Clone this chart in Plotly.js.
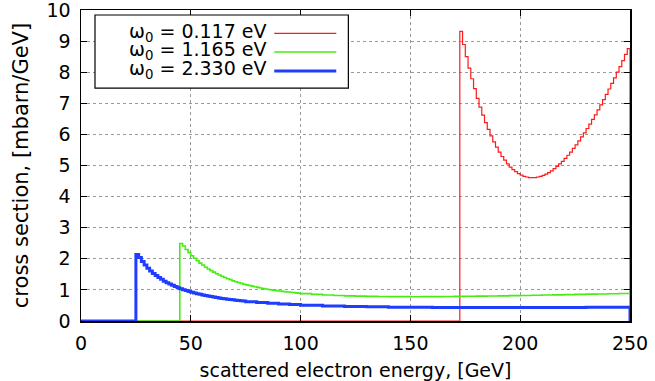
<!DOCTYPE html>
<html>
<head>
<meta charset="utf-8">
<script src="https://cdn.plot.ly/plotly-3.0.1.min.js"></script>
<style>
  html, body { margin: 0; padding: 0; background: #fff; }
  #chart { width: 655px; height: 381px; }
</style>
</head>
<body>
<div id="chart"></div>
<script>
// histogram bins, GeV
const FINE_BIN = 1.25;

// omega0 = 0.117 eV (red), bins of 1.25 GeV starting at 172.5
const redStart = 172.5;
const redValues = [9.31, 8.89, 8.50, 8.13, 7.79, 7.47, 7.16, 6.88, 6.62, 6.38,
  6.16, 5.95, 5.76, 5.59, 5.43, 5.29, 5.17, 5.05, 4.95, 4.87,
  4.80, 4.74, 4.69, 4.65, 4.63, 4.61, 4.61, 4.61, 4.63, 4.65,
  4.68, 4.72, 4.77, 4.83, 4.90, 4.97, 5.05, 5.13, 5.23, 5.33,
  5.43, 5.55, 5.66, 5.79, 5.92, 6.05, 6.19, 6.33, 6.48, 6.63,
  6.79, 6.95, 7.12, 7.29, 7.46, 7.64, 7.82, 8.00, 8.18, 8.37,
  8.57, 8.76];

// omega0 = 1.165 eV (green): 1.25 GeV bins from 45, then 5 GeV bins from 100
const greenStart = 45;
const greenFine = [2.49, 2.41, 2.30, 2.20, 2.10, 2.02, 1.94, 1.86, 1.80, 1.73,
  1.67, 1.62, 1.57, 1.52, 1.48, 1.44, 1.40, 1.36, 1.33, 1.29,
  1.26, 1.24, 1.21, 1.18, 1.16, 1.14, 1.12, 1.10, 1.08, 1.06,
  1.046, 1.03, 1.015, 1.00, 0.988, 0.976, 0.964, 0.953, 0.942, 0.932,
  0.923, 0.914, 0.905, 0.897];
const greenCoarse = [0.879, 0.855, 0.835, 0.820, 0.808, 0.799, 0.792, 0.787, 0.784, 0.783,
  0.782, 0.783, 0.785, 0.787, 0.791, 0.795, 0.799, 0.804, 0.809, 0.815,
  0.821, 0.828, 0.834, 0.841, 0.848, 0.855, 0.863, 0.870, 0.878, 0.886];

// omega0 = 2.330 eV (blue): 1.25 GeV bins from 25, 5 GeV from 75, 10 GeV from 100
const blueStart = 25;
const blueFine = [2.14, 2.04, 1.91, 1.80, 1.70, 1.61, 1.53, 1.46, 1.40, 1.34,
  1.28, 1.23, 1.19, 1.15, 1.107, 1.071, 1.037, 1.006, 0.977, 0.950,
  0.924, 0.901, 0.878, 0.857, 0.837, 0.819, 0.801, 0.785, 0.769, 0.754,
  0.740, 0.727, 0.714, 0.702, 0.691, 0.680, 0.669, 0.659, 0.650, 0.641];
const blueMid = [0.620, 0.591, 0.567, 0.546, 0.529];
const blueCoarse = [0.507, 0.484, 0.468, 0.455, 0.446, 0.440, 0.436, 0.433, 0.432, 0.432,
  0.432, 0.434, 0.437, 0.440, 0.443];

const E_MAX = 250;
const xTicks = [0, 50, 100, 150, 200, 250];
const yTicks = [0, 1, 2, 3, 4, 5, 6, 7, 8, 9, 10];
const legendLabels = ['ω<sub>0</sub> = 0.117 eV', 'ω<sub>0</sub> = 1.165 eV', 'ω<sub>0</sub> = 2.330 eV'];
const colors = ['#ff1a1a', '#44ee11', '#1f3dff'];
const widths = [1.2, 1.6, 3];

// turn [start, width, values] segments into a step outline that starts and ends at zero
function steps(segments) {
  const x = [0], y = [0];
  segments.forEach(([start, w, vals]) => {
    vals.forEach((v, i) => { x.push(start + i * w); y.push(v); });
  });
  x.push(E_MAX); y.push(0);
  return { x, y };
}

const series = [
  steps([[redStart, FINE_BIN, redValues]]),
  steps([[greenStart, FINE_BIN, greenFine], [100, 5, greenCoarse]]),
  steps([[blueStart, FINE_BIN, blueFine], [75, 5, blueMid], [100, 10, blueCoarse]])
];

const data = series.map((s, i) => ({
  x: s.x,
  y: s.y,
  type: 'scatter',
  mode: 'lines',
  line: { shape: 'hv', color: colors[i], width: widths[i] },
  name: legendLabels[i],
  showlegend: false,
  hoverinfo: 'skip'
}));

const font = 'DejaVu Sans, Liberation Sans, Arial, sans-serif';

// gnuplot style key: text right aligned, sample line to the right
const keyRows = [0.929, 0.869, 0.808];
const annotations = legendLabels.map((t, i) => ({
  xref: 'paper', yref: 'paper', x: 0.343, y: keyRows[i],
  xanchor: 'right', yanchor: 'middle', showarrow: false,
  text: t, font: { family: font, size: 19, color: '#000' }
}));
const shapes = [{
  type: 'rect', xref: 'paper', yref: 'paper', layer: 'above',
  x0: 0.0255, x1: 0.487, y0: 0.749, y1: 0.984,
  fillcolor: '#fff', line: { color: '#000', width: 1.2 }
}].concat(keyRows.map((yy, i) => ({
  type: 'line', xref: 'paper', yref: 'paper', layer: 'above',
  x0: 0.352, x1: 0.465, y0: yy - 0.004, y1: yy - 0.004,
  line: { color: colors[i], width: widths[i] }
})));

const axisCommon = {
  showline: true, linecolor: '#000', linewidth: 1.5, mirror: 'ticks',
  ticks: 'inside', ticklen: 6, tickwidth: 1, tickcolor: '#000',
  showgrid: true, gridcolor: '#9a9a9a', griddash: 'dot', gridwidth: 1,
  zeroline: false, ticklabeloverflow: 'allow',
  tickfont: { family: font, size: 19, color: '#000' }
};

const layout = {
  width: 655, height: 381,
  margin: { l: 81, r: 25, t: 10, b: 60 },
  paper_bgcolor: '#fff', plot_bgcolor: '#fff',
  xaxis: Object.assign({}, axisCommon, {
    range: [0, 250], tickmode: 'array', tickvals: xTicks, ticktext: xTicks.map(String),
    ticklabelstandoff: 5,
    title: { text: 'scattered electron energy, [GeV]', font: { family: font, size: 19, color: '#000' }, standoff: 10 }
  }),
  yaxis: Object.assign({}, axisCommon, {
    range: [0, 10], tickmode: 'array', tickvals: yTicks, ticktext: yTicks.map(String),
    ticklabelstandoff: 5,
    title: { text: 'cross section, [mbarn/GeV]', font: { family: font, size: 21, color: '#000' }, standoff: 12 }
  }),
  annotations: annotations,
  shapes: shapes,
  showlegend: false
};

Plotly.newPlot('chart', data, layout, { displayModeBar: false, staticPlot: true });
</script>
</body>
</html>
